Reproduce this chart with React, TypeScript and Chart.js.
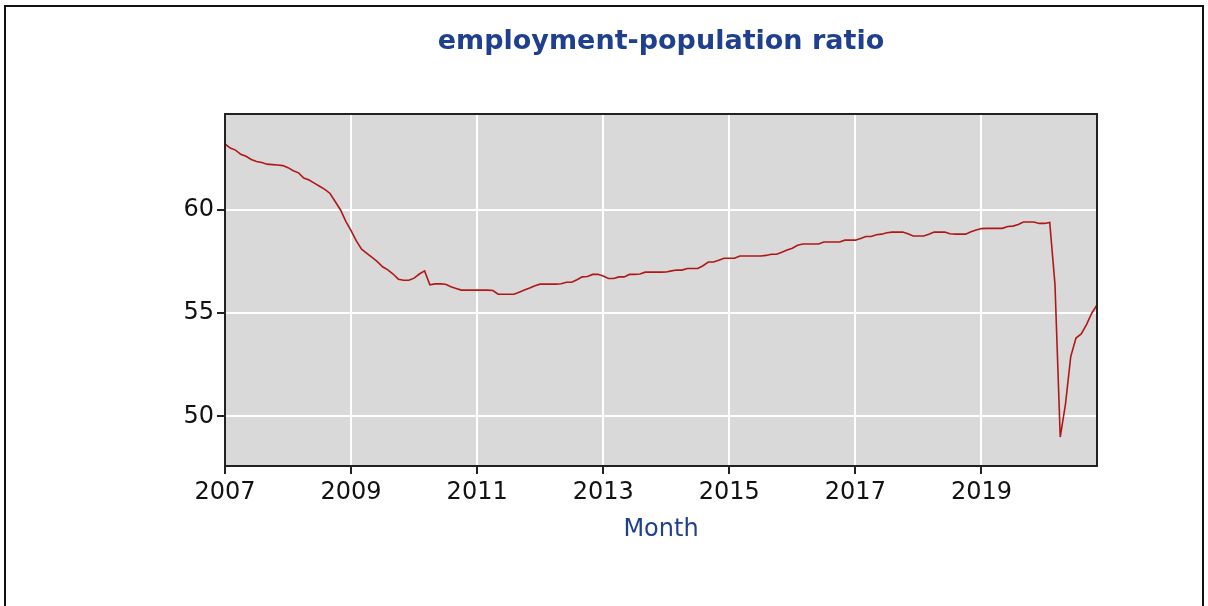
import React, { useEffect, useRef } from "react";
import { Chart, registerables } from "chart.js";

Chart.register(...registerables);

const chartTitle = "employment-population ratio";
const xAxisTitle = "Month";
const startYear = 2007;
const xTickYears = [2007, 2009, 2011, 2013, 2015, 2017, 2019];
const yTickValues = [50, 55, 60];

// Monthly values, Jan..Dec of each year
const v2007 = [63.2, 63.0, 62.9, 62.7, 62.6, 62.45, 62.35, 62.3, 62.22, 62.2, 62.18, 62.15];
const v2008 = [62.05, 61.9, 61.8, 61.55, 61.45, 61.3, 61.15, 61.0, 60.8, 60.4, 60.0, 59.45];
const v2009 = [59.0, 58.5, 58.1, 57.9, 57.7, 57.5, 57.25, 57.1, 56.9, 56.65, 56.6, 56.6];
const v2010 = [56.7, 56.9, 57.05, 56.38, 56.42, 56.42, 56.4, 56.28, 56.2, 56.12, 56.12, 56.12];
const v2011 = [56.12, 56.12, 56.12, 56.1, 55.92, 55.92, 55.92, 55.92, 56.02, 56.12, 56.22, 56.33];
const v2012 = [56.41, 56.41, 56.41, 56.41, 56.43, 56.5, 56.5, 56.62, 56.76, 56.78, 56.88, 56.89];
const v2013 = [56.8, 56.68, 56.68, 56.76, 56.76, 56.88, 56.88, 56.9, 56.99, 56.99, 56.99, 56.99];
const v2014 = [57.0, 57.05, 57.09, 57.09, 57.17, 57.17, 57.17, 57.3, 57.48, 57.48, 57.57, 57.66];
const v2015 = [57.66, 57.66, 57.77, 57.77, 57.77, 57.77, 57.77, 57.8, 57.86, 57.86, 57.95, 58.06];
const v2016 = [58.15, 58.29, 58.35, 58.35, 58.35, 58.35, 58.45, 58.45, 58.45, 58.45, 58.54, 58.54];
const v2017 = [58.54, 58.62, 58.72, 58.72, 58.8, 58.83, 58.9, 58.93, 58.93, 58.93, 58.85, 58.74];
const v2018 = [58.74, 58.74, 58.83, 58.93, 58.93, 58.93, 58.85, 58.83, 58.83, 58.83, 58.95, 59.03];
const v2019 = [59.1, 59.11, 59.11, 59.11, 59.11, 59.2, 59.22, 59.3, 59.42, 59.42, 59.42, 59.35];
const v2020 = [59.35, 59.4, 56.4, 49.0, 50.6, 52.9, 53.8, 54.0, 54.45, 55.0, 55.4];

const yearlyValues = [v2007, v2008, v2009, v2010, v2011, v2012, v2013, v2014, v2015, v2016, v2017, v2018, v2019, v2020];

const NAVY = "#1f3f8f";
const FONT = "'DejaVu Sans', Verdana, sans-serif";

export default function App() {
  const canvasRef = useRef<HTMLCanvasElement | null>(null);

  useEffect(() => {
    const canvas = canvasRef.current;
    if (!canvas) return;

    const points: { x: number; y: number }[] = [];
    yearlyValues.forEach((arr, yi) => {
      arr.forEach((v, mi) => points.push({ x: startYear + yi + mi / 12, y: v }));
    });
    const xMax = points[points.length - 1].x;

    const plotFrame = {
      id: "plotFrame",
      beforeDraw(chart: any) {
        const { ctx, chartArea: a } = chart;
        ctx.save();
        ctx.fillStyle = "#d9d9d9";
        ctx.fillRect(a.left, a.top, a.right - a.left, a.bottom - a.top);
        ctx.restore();
      },
      afterDraw(chart: any) {
        const { ctx, chartArea: a } = chart;
        ctx.save();
        ctx.strokeStyle = "#222";
        ctx.lineWidth = 2;
        ctx.strokeRect(a.left, a.top, a.right - a.left, a.bottom - a.top);
        ctx.restore();
      },
    };

    const chart = new Chart(canvas, {
      type: "line",
      data: {
        datasets: [
          {
            data: points,
            borderColor: "#b01818",
            borderWidth: 1.6,
            pointRadius: 0,
            tension: 0,
            fill: false,
          },
        ],
      },
      options: {
        animation: false,
        responsive: false,
        maintainAspectRatio: false,
        devicePixelRatio: 1,
        layout: { padding: { left: 0, right: 111, top: 0, bottom: 0 } },
        plugins: {
          legend: { display: false },
          tooltip: { enabled: false },
          title: {
            display: true,
            fullSize: false,
            text: chartTitle,
            color: NAVY,
            font: { family: FONT, size: 27, weight: "bold", lineHeight: 1.2 },
            padding: { top: 26, bottom: 55.6 },
          },
        },
        scales: {
          x: {
            type: "linear",
            min: startYear,
            max: xMax,
            afterBuildTicks: (s: any) => {
              s.ticks = xTickYears.map((v) => ({ value: v }));
            },
            afterFit: (s: any) => {
              s.height = 140;
            },
            grid: { color: "#ffffff", lineWidth: 2, tickColor: "#222", tickLength: 8, drawTicks: true },
            border: { color: "#222", width: 2 },
            ticks: {
              color: "#111",
              font: { family: FONT, size: 24 },
              padding: 4,
              maxRotation: 0,
              autoSkip: false,
              callback: (v: any) => String(v),
            },
            title: {
              display: true,
              text: xAxisTitle,
              color: NAVY,
              font: { family: FONT, size: 24, lineHeight: 1.2 },
              padding: { top: 0, bottom: 62 },
            },
          },
          y: {
            min: 47.6,
            max: 64.65,
            afterBuildTicks: (s: any) => {
              s.ticks = yTickValues.map((v) => ({ value: v }));
            },
            afterFit: (s: any) => {
              s.width = 225;
            },
            grid: { color: "#ffffff", lineWidth: 2, tickColor: "#222", tickLength: 8, drawTicks: true },
            border: { color: "#222", width: 2 },
            ticks: {
              color: "#111",
              font: { family: FONT, size: 24 },
              padding: 3,
              callback: (v: any) => String(v),
            },
          },
        },
      },
      plugins: [plotFrame],
    });

    return () => chart.destroy();
  }, []);

  return (
    <div style={{ position: "fixed", left: 0, top: 0, width: 1208, height: 606, background: "#fff", overflow: "hidden" }}>
      <div
        style={{
          position: "absolute",
          left: 4,
          top: 5,
          width: 1200,
          height: 700,
          boxSizing: "border-box",
          border: "2px solid #111",
        }}
      />
      <canvas ref={canvasRef} width={1208} height={606} style={{ position: "absolute", left: 0, top: 0, display: "block" }} />
    </div>
  );
}
